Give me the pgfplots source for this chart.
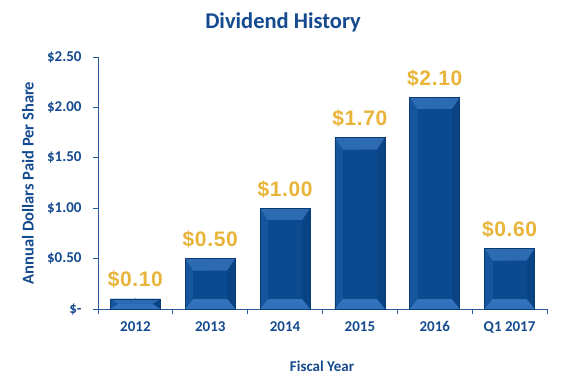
\documentclass[border=0pt]{standalone}
\usepackage{pgfplots}
\pgfplotsset{compat=1.18}
\usepackage{fontspec}
\setmainfont{Carlito}
\newfontfamily\arialfont[LetterSpace=3]{Liberation Sans}
\definecolor{txtblue}{HTML}{144A90}
\definecolor{barblue}{HTML}{0B4A8F}
\definecolor{leftblue}{HTML}{16549C}
\definecolor{rightblue}{HTML}{0A4384}
\definecolor{topblue}{HTML}{2C6AB2}
\definecolor{botblue}{HTML}{3272BC}
\definecolor{edgeblue}{HTML}{0A3B74}
\definecolor{goldc}{HTML}{E8B43A}
\definecolor{axblue}{HTML}{2A5A9A}
\pgfplotstableread{
x y
0 0.10
1 0.50
2 1.00
3 1.70
4 2.10
5 0.60
}\divtable
\begin{document}
\begin{tikzpicture}[x=1pt,y=1pt]
\useasboundingbox (0,0) rectangle (562,380);
\begin{axis}[
  at={(98pt,71pt)}, anchor=south west,
  scale only axis, width=449pt, height=252pt,
  xmin=-0.5, xmax=5.5, ymin=0, ymax=2.5,
  axis x line=bottom, axis y line=left,
  axis line style={-, axblue, line width=0.9pt},
  ytick={0,0.5,1,1.5,2,2.5},
  yticklabels={\$-,\$0.50,\$1.00,\$1.50,\$2.00,\$2.50},
  xtick={0,...,5},
  xticklabels={2012,2013,2014,2015,2016,Q1 2017},
  minor xtick={-0.5,0.5,1.5,2.5,3.5,4.5,5.5},
  major x tick style={draw=none},
  tick align=outside,
  tick style={axblue, line width=0.9pt},
  major tick length=5pt, minor tick length=5pt,
  ticklabel style={font=\bfseries\fontsize{15}{15}\selectfont, text=txtblue},
  yticklabel style={xshift=-8pt},
  xticklabel style={yshift=-4pt},
]
\addplot[ybar, bar width=50pt, fill=barblue, draw=none,
  nodes near coords={\$\pgfmathprintnumber[fixed,fixed zerofill,precision=2,assume math mode=true]{\pgfplotspointmeta}},
  nodes near coords style={font=\arialfont\bfseries\fontsize{21}{21}\selectfont, text=goldc, anchor=base, inner sep=0pt, yshift=12pt},
] table[x=x,y=y] {\divtable};
\addplot[only marks, scatter, mark=*, mark size=0.01pt, mark options={draw=none, fill=none},
  visualization depends on={y \as \rawy},
  scatter/@pre marker code/.code={%
    \pgfmathsetlengthmacro{\bh}{\rawy*100.8pt}%
    \pgfmathsetlengthmacro{\bt}{min(12pt,\bh/2)}%
    \pgfmathsetlengthmacro{\bb}{min(10pt,\bh/2)}%
    \def\bs{8pt}%
    \pgfsetfillcolor{leftblue}%
    \pgfpathrectanglecorners{\pgfpoint{-25pt}{-\bh}}{\pgfpoint{0pt}{0pt}}\pgfusepath{fill}%
    \pgfsetfillcolor{rightblue}%
    \pgfpathrectanglecorners{\pgfpoint{0pt}{-\bh}}{\pgfpoint{25pt}{0pt}}\pgfusepath{fill}%
    \pgfsetfillcolor{topblue}%
    \pgfpathmoveto{\pgfpoint{-25pt}{0pt}}\pgfpathlineto{\pgfpoint{25pt}{0pt}}%
    \pgfpathlineto{\pgfpoint{25pt-\bs}{-\bt}}\pgfpathlineto{\pgfpoint{-25pt+\bs}{-\bt}}\pgfpathclose\pgfusepath{fill}%
    \pgfsetfillcolor{botblue}%
    \pgfpathmoveto{\pgfpoint{-25pt}{-\bh}}\pgfpathlineto{\pgfpoint{25pt}{-\bh}}%
    \pgfpathlineto{\pgfpoint{25pt-\bs}{-\bh+\bb}}\pgfpathlineto{\pgfpoint{-25pt+\bs}{-\bh+\bb}}\pgfpathclose\pgfusepath{fill}%
    \pgfsetfillcolor{barblue}%
    \pgfpathrectanglecorners{\pgfpoint{-25pt+\bs}{-\bh+\bb}}{\pgfpoint{25pt-\bs}{-\bt}}\pgfusepath{fill}%
    \pgfsetstrokecolor{edgeblue}\pgfsetlinewidth{0.6pt}%
    \pgfpathrectanglecorners{\pgfpoint{-25pt}{-\bh}}{\pgfpoint{25pt}{0pt}}\pgfusepath{stroke}%
  },
  scatter/@post marker code/.code={},
] table[x=x,y=y] {\divtable};
\end{axis}
\node[font=\bfseries\fontsize{22.5}{22.5}\selectfont, text=txtblue] at (283,358) {Dividend History};
\node[rotate=90, font=\bfseries\fontsize{16.5}{16.5}\selectfont, text=txtblue] at (28,197) {Annual Dollars Paid Per Share};
\node[font=\bfseries\fontsize{15}{15}\selectfont, text=txtblue] at (322,14) {Fiscal Year};
\end{tikzpicture}
\end{document}
